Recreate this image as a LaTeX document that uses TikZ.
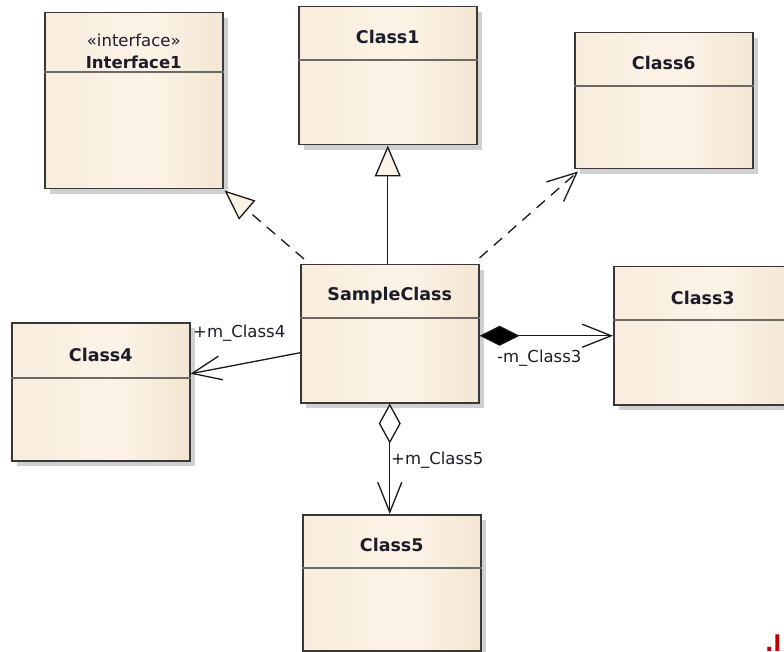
\documentclass[tikz,border=0pt]{standalone}
\usepackage{fontspec}
\setmainfont{DejaVu Sans}
\usetikzlibrary{arrows.meta,shadows}

\definecolor{boxline}{HTML}{383838}
\definecolor{boxmid}{HTML}{FCF3E7}
\definecolor{divline}{HTML}{6C6864}
\definecolor{inktext}{HTML}{1C1C2A}
\definecolor{markred}{HTML}{C00000}

% warm paper fill, brightest a little right of centre
\pgfdeclarehorizontalshading{classfill}{100bp}{%
  color(0bp)=(rgb,255:red,244;green,231;blue,213);
  color(55bp)=(rgb,255:red,252;green,243;blue,231);
  color(100bp)=(rgb,255:red,231;green,212;blue,184)}

\tikzset{
  classbox/.style={draw=boxline, line width=1.5pt, anchor=north west,
    minimum width=178pt, minimum height=138pt, inner sep=0pt,
    shading=classfill, shading angle=0,
    drop shadow={shadow xshift=5pt, shadow yshift=-5pt, opacity=0.3, fill=black!60}},
  divider/.style={draw=divline, line width=2pt},
  classtitle/.style={text=inktext, font=\fontsize{17.5}{20}\selectfont\bfseries, inner sep=0pt},
  stereo/.style={text=inktext, font=\fontsize{16.5}{20}\selectfont, inner sep=0pt},
  rolelabel/.style={text=inktext, font=\fontsize{16.5}{20}\selectfont, inner sep=0pt},
  link/.style={draw=black!90, line width=1.3pt},
  realize/.style={link, dash pattern=on 11pt off 8pt,
    -{Triangle[length=30pt, width=25pt, fill=boxmid]}},
  inherit/.style={link, -{Triangle[length=31pt, width=26pt, fill=boxmid]}},
  depend/.style={link, dash pattern=on 11pt off 8pt,
    -{Straight Barb[length=29pt, width=26pt]}},
  assoc/.style={link, -{Straight Barb[length=29pt, width=24pt]}},
  compose/.style={link, {Diamond[length=40pt, width=20pt, fill=black]}-{Straight Barb[length=29pt, width=23pt]}},
  aggregate/.style={link, {Diamond[length=40pt, width=22pt, fill=white]}-{Straight Barb[length=30pt, width=24pt]}},
}

\newcommand\classpart[2]{% node name, header height
  \draw[divider] ([yshift=-#2pt]#1.north west) -- ([yshift=-#2pt]#1.north east);
}

\begin{document}
\begin{tikzpicture}[x=1pt, y=-1pt]
\useasboundingbox (0,0) rectangle (784,652);
\clip (0,0) rectangle (784,652);
\fill[white] (0,0) rectangle (784,652);

% class boxes
\node[classbox, minimum height=176pt] (if) at (44,12) {};
\node[classbox] (c1) at (298,6) {};
\node[classbox, minimum height=136pt] (c6) at (574,32) {};
\node[classbox] (sc) at (300,264) {};
\node[classbox] (c3) at (613,266) {};
\node[classbox] (c4) at (11,322) {};
\node[classbox, minimum height=136pt] (c5) at (302,514) {};

% compartment dividers
\classpart{if}{60}
\classpart{c1}{54}
\classpart{c6}{54}
\classpart{sc}{54}
\classpart{c3}{54}
\classpart{c4}{56}
\classpart{c5}{54}

% names
\node[stereo] at ([yshift=-28pt]if.north) {«interface»};
\node[classtitle, font=\fontsize{16.5}{20}\selectfont\bfseries] at ([yshift=-50pt]if.north) {Interface1};
\node[classtitle] at ([yshift=-31pt]c1.north) {Class1};
\node[classtitle] at ([yshift=-31pt]c6.north) {Class6};
\node[classtitle] at ([yshift=-32pt]sc.north) {SampleClass};
\node[classtitle] at ([yshift=-32pt]c3.north) {Class3};
\node[classtitle] at ([yshift=-33pt]c4.north) {Class4};
\node[classtitle] at ([yshift=-31pt]c5.north) {Class5};

% relationships
\draw[realize] ([xshift=4pt, yshift=5pt]sc.north west) -- ([xshift=1pt, yshift=-1pt]if.south east);
\draw[inherit] (c1.south |- sc.north) -- (c1.south);
\draw[depend] ([yshift=6pt]sc.north east) -- ([xshift=4pt, yshift=-2pt]c6.south west);
\draw[compose] ([yshift=-2pt]sc.east) -- ([yshift=-2pt]sc.east -| c3.west);
\draw[assoc] ([yshift=-19pt]sc.west) -- ([yshift=18pt]c4.east);
\draw[aggregate] (sc.south) -- (sc.south |- c5.north);

% role names
\node[rolelabel, anchor=west] at (193,333) {+m\_Class4};
\node[rolelabel, anchor=west] at (497,358) {-m\_Class3};
\node[rolelabel, anchor=west] at (391,460) {+m\_Class5};

% red mark in the lower right corner
\node[text=markred, font=\fontsize{22}{22}\selectfont\bfseries, inner sep=0pt, anchor=base west] at (765,651) {.l};
\end{tikzpicture}
\end{document}
